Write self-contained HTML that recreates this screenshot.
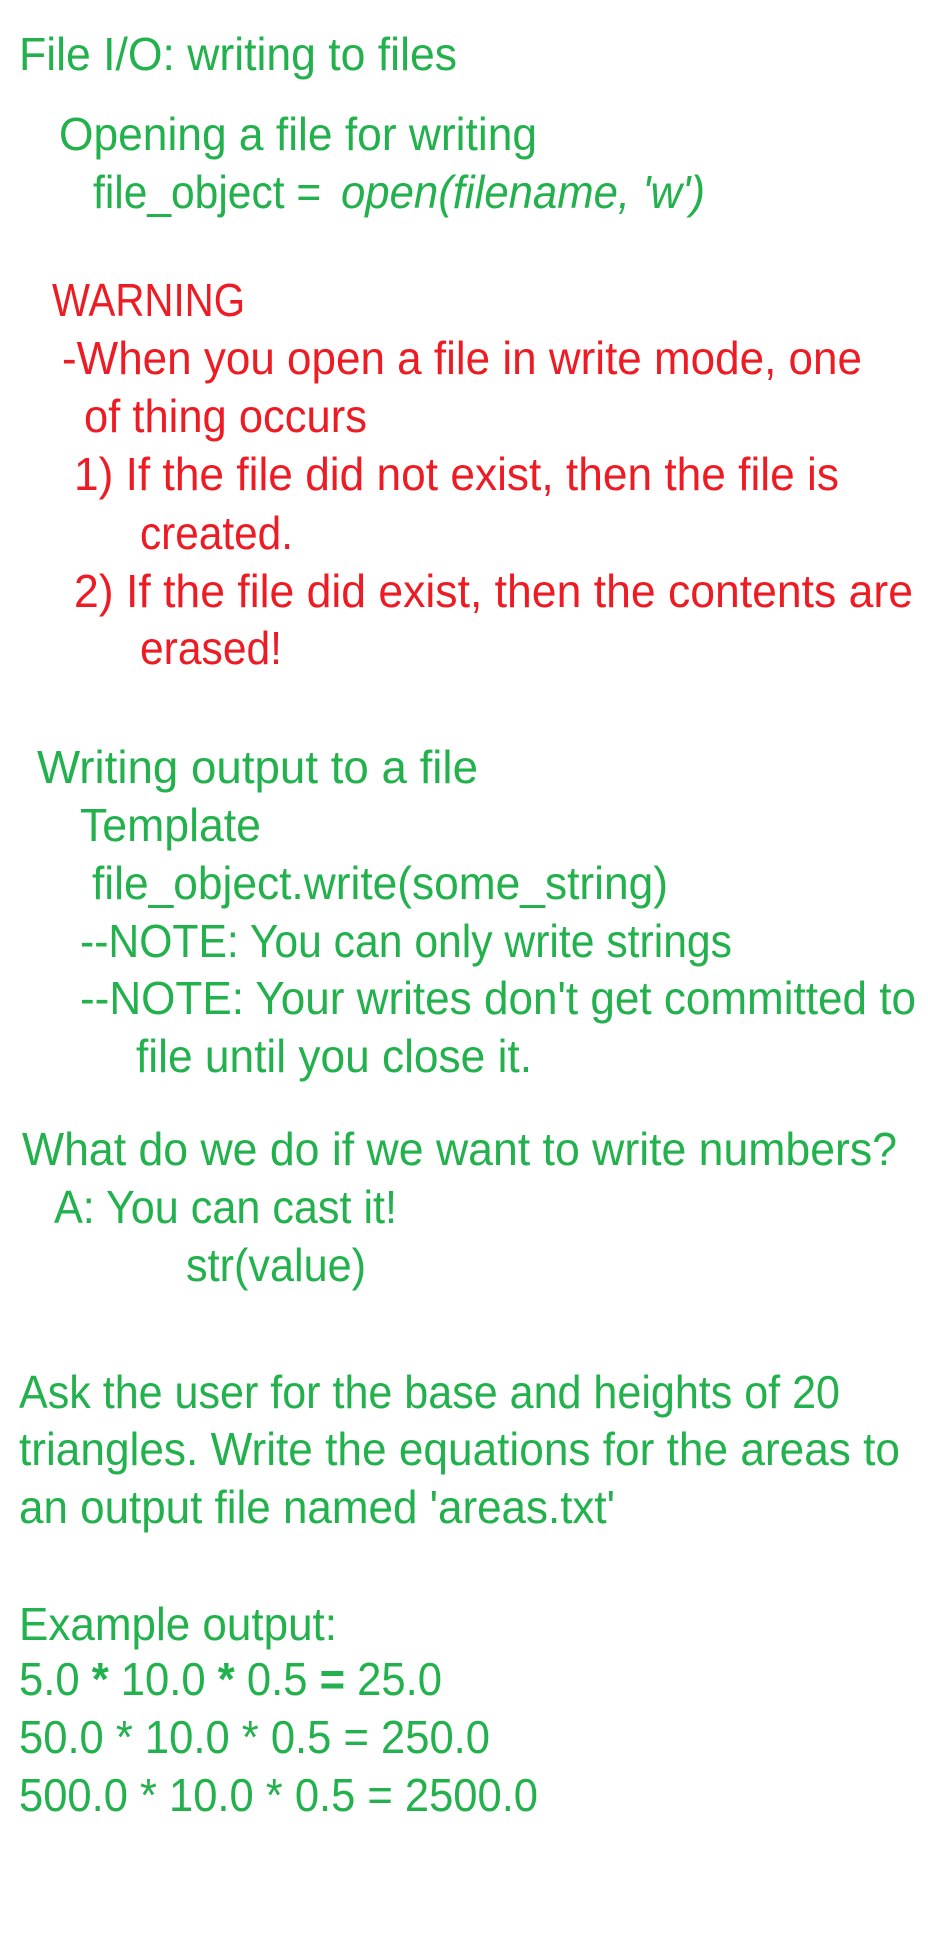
<!DOCTYPE html>
<html><head><meta charset="utf-8"><style>
html,body{margin:0;padding:0;background:#fff;}
svg{display:block;}
text{font-family:"Liberation Sans",sans-serif;font-size:46px;}
.g{fill:#22b14c;}
.r{fill:#ed1c24;}
</style></head><body>
<svg width="928" height="1936" viewBox="0 0 928 1936" xmlns="http://www.w3.org/2000/svg">
<text class="g" x="19" y="70" textLength="438" lengthAdjust="spacingAndGlyphs">File I/O: writing to files</text>
<text class="g" x="59" y="150" textLength="478" lengthAdjust="spacingAndGlyphs">Opening a file for writing</text>
<text class="g" x="93" y="208" textLength="240" lengthAdjust="spacingAndGlyphs">file_object =&#160;</text>
<text class="g" x="341" y="208" textLength="364" lengthAdjust="spacingAndGlyphs" font-style="italic">open(filename, 'w')</text>
<text class="r" x="52" y="316" textLength="193" lengthAdjust="spacingAndGlyphs">WARNING</text>
<text class="r" x="62" y="374" textLength="800" lengthAdjust="spacingAndGlyphs">-When you open a file in write mode, one</text>
<text class="r" x="84" y="432" textLength="283" lengthAdjust="spacingAndGlyphs">of thing occurs</text>
<text class="r" x="74" y="490" textLength="765" lengthAdjust="spacingAndGlyphs">1) If the file did not exist, then the file is</text>
<text class="r" x="140" y="549" textLength="153" lengthAdjust="spacingAndGlyphs">created.</text>
<text class="r" x="74" y="607" textLength="839" lengthAdjust="spacingAndGlyphs">2)  If the file did exist, then the contents are</text>
<text class="r" x="140" y="664" textLength="142" lengthAdjust="spacingAndGlyphs">erased!</text>
<text class="g" x="37" y="783" textLength="441" lengthAdjust="spacingAndGlyphs">Writing output to a file</text>
<text class="g" x="80" y="841" textLength="181" lengthAdjust="spacingAndGlyphs">Template</text>
<text class="g" x="92" y="899" textLength="576" lengthAdjust="spacingAndGlyphs">file_object.write(some_string)</text>
<text class="g" x="80" y="957" textLength="652" lengthAdjust="spacingAndGlyphs">--NOTE: You can only write strings</text>
<text class="g" x="80" y="1014" textLength="836" lengthAdjust="spacingAndGlyphs">--NOTE: Your writes don't get committed to</text>
<text class="g" x="136" y="1072" textLength="396" lengthAdjust="spacingAndGlyphs">file until you close it.</text>
<text class="g" x="22" y="1165" textLength="875" lengthAdjust="spacingAndGlyphs">What do we do if we want to write numbers?</text>
<text class="g" x="54" y="1223" textLength="343" lengthAdjust="spacingAndGlyphs">A: You can cast it!</text>
<text class="g" x="186" y="1281" textLength="180" lengthAdjust="spacingAndGlyphs">str(value)</text>
<text class="g" x="19" y="1408" textLength="821" lengthAdjust="spacingAndGlyphs">Ask the user for the base and heights of 20</text>
<text class="g" x="19" y="1465" textLength="881" lengthAdjust="spacingAndGlyphs">triangles. Write the equations for the areas to</text>
<text class="g" x="19" y="1523" textLength="596" lengthAdjust="spacingAndGlyphs">an output file named 'areas.txt'</text>
<text class="g" x="19" y="1640" textLength="318" lengthAdjust="spacingAndGlyphs">Example output:</text>
<text class="g" x="19" y="1695" textLength="423" lengthAdjust="spacingAndGlyphs">5.0 <tspan font-weight="bold">*</tspan> 10.0 <tspan font-weight="bold">*</tspan> 0.5 <tspan font-weight="bold">=</tspan> 25.0</text>
<text class="g" x="19" y="1753" textLength="471" lengthAdjust="spacingAndGlyphs">50.0 * 10.0 * 0.5 = 250.0</text>
<text class="g" x="19" y="1811" textLength="519" lengthAdjust="spacingAndGlyphs">500.0 * 10.0 * 0.5 = 2500.0</text>
</svg>
</body></html>
